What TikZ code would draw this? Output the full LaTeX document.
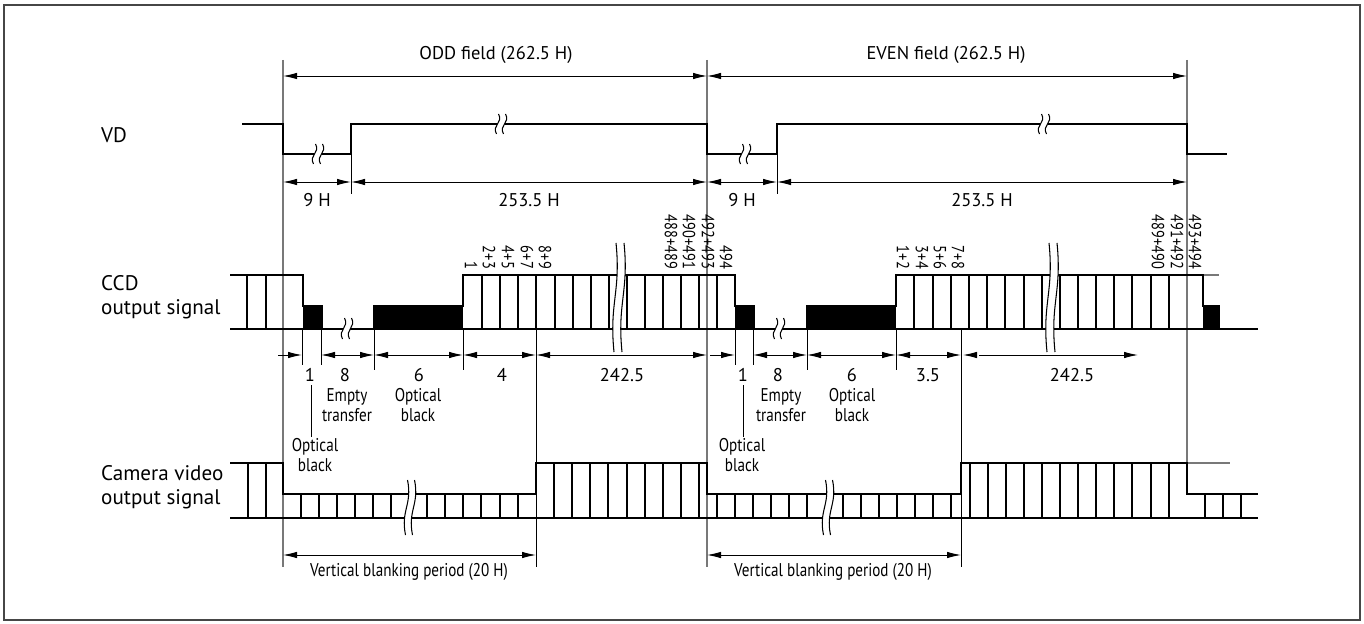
\documentclass[tikz,border=0pt]{standalone}
\usepackage{fontspec}
\setmainfont{PT Sans}
\newfontfamily\condfont[FakeStretch=0.82]{PT Sans}
\usepackage{tikz}
\usetikzlibrary{arrows.meta}
\definecolor{guide}{RGB}{120,120,120}
\definecolor{boxgray}{RGB}{70,70,70}

\newcommand{\sigbreak}[4]{%
  \fill[white] ({#1-#4/2+2},#2) .. controls ({#1-#4/2+7},{#2+(#3-#2)*0.45}) and ({#1-#4/2-5},{#2+(#3-#2)*0.55}) .. ({#1-#4/2},#3)
    -- ({#1+#4/2},#3) .. controls ({#1+#4/2-5},{#2+(#3-#2)*0.55}) and ({#1+#4/2+7},{#2+(#3-#2)*0.45}) .. ({#1+#4/2+2},#2) -- cycle;
  \draw[line width=0.6pt] ({#1-#4/2+2},#2) .. controls ({#1-#4/2+7},{#2+(#3-#2)*0.45}) and ({#1-#4/2-5},{#2+(#3-#2)*0.55}) .. ({#1-#4/2},#3);
  \draw[line width=0.6pt] ({#1+#4/2+2},#2) .. controls ({#1+#4/2+7},{#2+(#3-#2)*0.45}) and ({#1+#4/2-5},{#2+(#3-#2)*0.55}) .. ({#1+#4/2},#3);
}

\begin{document}
\begin{tikzpicture}[x=0.02cm, y=-0.02cm,
    sig/.style={line width=1.2pt},
    cellline/.style={line width=1pt},
    fieldline/.style={guide, line width=0.6pt},
    tickline/.style={line width=0.55pt},
    dimline/.style={line width=0.55pt, {Latex[length=2.8mm,width=1.3mm]}-{Latex[length=2.8mm,width=1.3mm]}},
    halfdim/.style={line width=0.55pt, -{Latex[length=2.8mm,width=1.3mm]}},
    rowlbl/.style={anchor=west, align=left, font=\fontsize{12}{13.6}\selectfont},
    toplbl/.style={font=\fontsize{10.5}{12}\selectfont},
    numlbl/.style={font=\fontsize{10.5}{12}\selectfont},
    notelbl/.style={align=center, font=\condfont\fontsize{10.5}{11.3}\selectfont},
    linelbl/.style={rotate=-90, anchor=east, inner sep=1pt, font=\condfont\fontsize{10}{11}\selectfont}
  ]
  \useasboundingbox (0,0) rectangle (1364,624);
  \draw[boxgray, line width=0.6pt] (4,5) rectangle (1360,620);

  \draw[fieldline] (283,60) -- (283,567);
  \draw[fieldline] (707,60) -- (707,567);
  \draw[fieldline] (1187,60) -- (1187,463) -- (1230,463);
  \draw[fieldline] (1203,275) -- (1219,275);

  \node[rowlbl] (vd)  at (95,135) {VD};
  \node[rowlbl] (ccd) at (95,297) {CCD\\output signal};
  \node[rowlbl] (cam) at (95,487) {Camera video\\output signal};

  \draw[dimline] (283,76) -- (707,76);
  \draw[dimline] (707,76) -- (1187,76);
  \node[toplbl] (oddf)  at (496,55) {ODD field (262.5 H)};
  \node[toplbl] (evenf) at (946,55) {EVEN field (262.5 H)};

  \draw[sig] (242,124) -- (283,124) -- (283,154) -- (351,154) -- (351,124) -- (707,124) -- (707,154)
    -- (777,154) -- (777,124) -- (1187,124) -- (1187,154) -- (1227,154);
  \draw[tickline] (351,154) -- (351,194);
  \draw[tickline] (777,154) -- (777,194);
  \sigbreak{317}{144}{164}{7}
  \sigbreak{500}{114}{134}{7}
  \sigbreak{744}{144}{164}{7}
  \sigbreak{1043}{114}{134}{7}

  \draw[dimline] (283,182) -- (351,182);
  \draw[dimline] (351,182) -- (707,182);
  \draw[dimline] (707,182) -- (777,182);
  \draw[dimline] (777,182) -- (1187,182);
  \node[toplbl] (vda) at (317,200) {9 H};
  \node[toplbl] (vdb) at (529,200) {253.5 H};
  \node[toplbl] (vdc) at (742,200) {9 H};
  \node[toplbl] (vdd) at (982,200) {253.5 H};

  \fill (303,306) rectangle (322,329);
  \fill (374,306) rectangle (463,329);
  \fill (735,306) rectangle (754,329);
  \fill (807,306) rectangle (896,329);
  \fill (1203,306) rectangle (1219,329);
  \draw[sig] (230,275) -- (303,275) -- (303,306) -- (322,306) -- (322,329);
  \draw[sig] (230,329) -- (1258,329);
  \draw[sig] (374,329) -- (374,306) -- (463,306) -- (463,275) -- (735,275) -- (735,306) -- (754,306) -- (754,329);
  \draw[sig] (807,329) -- (807,306) -- (896,306) -- (896,275) -- (1203,275) -- (1203,306) -- (1219,306) -- (1219,329);
  \foreach \x in {247,266,482,500,518,536,555,573,591,609,627,645,663,681,699,717,
                  914,933,951,969,987,1005,1024,1042,1060,1078,1096,1114,1132,1151,1169}
    \draw[cellline] (\x,275) -- (\x,329);
  \foreach \x/\t in {471/1, 489/2+3, 508/4+5, 527/6+7, 545/8+9, 671/488+489, 689/490+491,
                     708/492+493, 726/494, 903/1+2, 922/3+4, 940/5+6, 958/7+8,
                     1158/489+490, 1177/491+492, 1195/493+494}
    \node[linelbl] (ln\x) at (\x,271) {\t};
  \sigbreak{346}{318}{339}{7}
  \sigbreak{778}{318}{339}{7}
  \sigbreak{618}{243}{352}{8}
  \sigbreak{1051}{243}{352}{8}

  \foreach \x in {302,321,735,753}
    \draw[tickline] (\x,329) -- (\x,365);
  \foreach \x in {374,463,807,896}
    \draw[tickline] (\x,329) -- (\x,370);
  \draw[tickline] (536,329) -- (536,567);
  \draw[tickline] (961,329) -- (961,567);
  \draw[halfdim] (278,355) -- (302,355);
  \draw[dimline] (321,355) -- (374,355);
  \draw[dimline] (374,355) -- (463,355);
  \draw[dimline] (463,355) -- (536,355);
  \draw[dimline] (536,355) -- (707,355);
  \draw[halfdim] (710,355) -- (735,355);
  \draw[dimline] (753,355) -- (807,355);
  \draw[dimline] (807,355) -- (896,355);
  \draw[dimline] (896,355) -- (961,355);
  \draw[halfdim] (976,355) -- (963,355);
  \draw[halfdim] (979,355) -- (1138,355);

  \node[numlbl] (oa) at (310,375) {1};
  \node[numlbl] (ob) at (345,375) {8};
  \node[numlbl] (oc) at (419,375) {6};
  \node[numlbl] (od) at (502,375) {4};
  \node[numlbl] (oe) at (622,375) {242.5};
  \node[numlbl] (ea) at (743,375) {1};
  \node[numlbl] (eb) at (778,375) {8};
  \node[numlbl] (ec) at (852,375) {6};
  \node[numlbl] (ed) at (928,375) {3.5};
  \node[numlbl] (ee) at (1072,375) {242.5};
  \node[notelbl] (oempty) at (347,405) {Empty\\transfer};
  \node[notelbl] (oblack) at (418,405) {Optical\\black};
  \node[notelbl] (eempty) at (781,405) {Empty\\transfer};
  \node[notelbl] (eblack) at (852,405) {Optical\\black};
  \draw[tickline] (311,385) -- (311,437);
  \draw[tickline] (743,385) -- (743,437);
  \node[notelbl] (oob) at (315,455) {Optical\\black};
  \node[notelbl] (eob) at (742,455) {Optical\\black};

  \draw[sig] (230,463) -- (283,463) -- (283,494) -- (536,494) -- (536,463) -- (707,463) -- (707,494)
    -- (961,494) -- (961,463) -- (1187,463) -- (1187,494) -- (1258,494);
  \draw[sig] (230,518) -- (1258,518);
  \foreach \x in {248,266,554,572,590,608,627,645,663,681,699,
                  970,988,1006,1024,1042,1060,1078,1096,1114,1132,1151,1169}
    \draw[cellline] (\x,463) -- (\x,518);
  \foreach \x in {301,319,337,355,373,391,427,445,463,481,500,518,
                  717,735,753,771,789,807,843,861,879,897,915,933,951,1205,1223,1241}
    \draw[cellline] (\x,494) -- (\x,518);
  \sigbreak{409}{480}{535}{7}
  \sigbreak{827}{480}{535}{7}

  \draw[dimline] (283,555) -- (536,555);
  \draw[dimline] (707,555) -- (961,555);
  \node[notelbl] (ovb) at (409,572) {Vertical blanking period (20 H)};
  \node[notelbl] (evb) at (833,572) {Vertical blanking period (20 H)};
\end{tikzpicture}
\end{document}
